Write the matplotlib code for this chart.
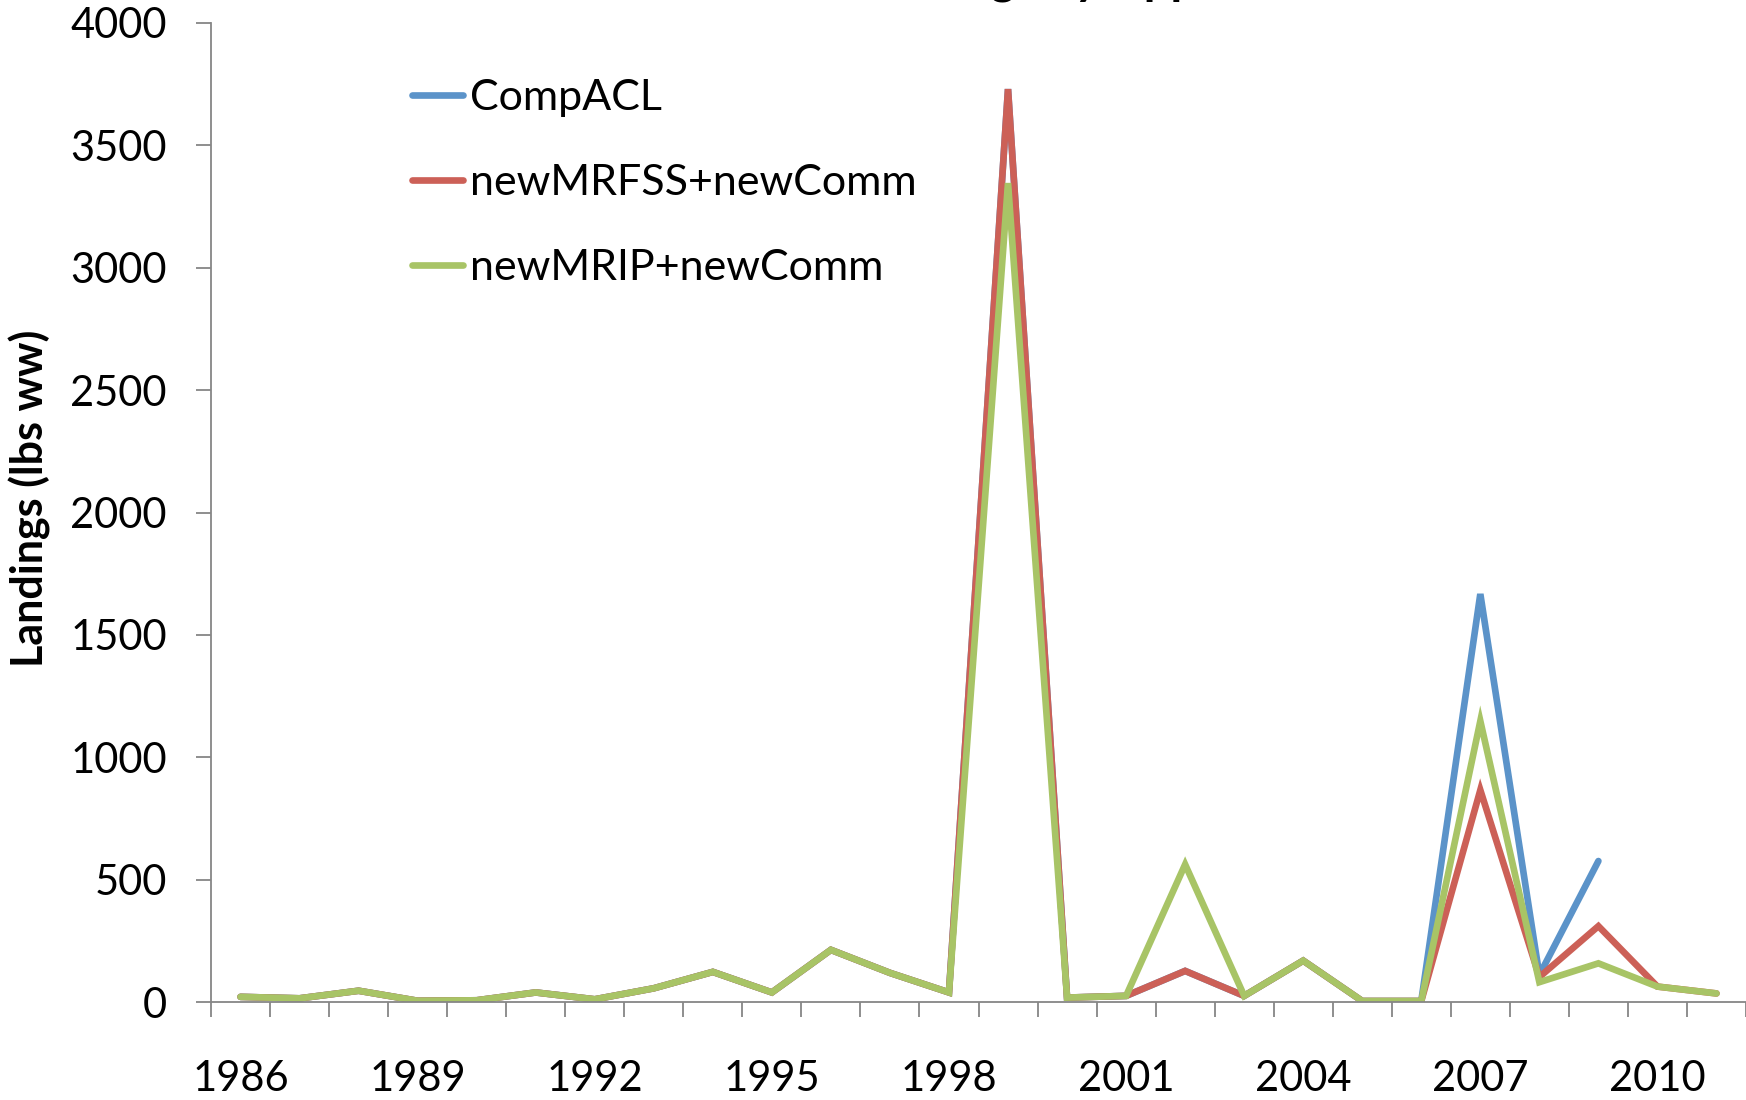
import numpy as np
import matplotlib
matplotlib.use('Agg')
import matplotlib.pyplot as plt
from matplotlib.ticker import MultipleLocator, FixedLocator

plt.rcParams['font.family'] = ['Lato', 'DejaVu Sans']

years = list(range(1986, 2012))
comp_acl = [21, 15, 46, 5, 7, 39, 11, 56, 123, 39, 213, 119, 39, 3730, 18, 25, 127, 25, 169, 4, 4,
            1667, 110, 576, np.nan, np.nan]
new_mrfss = [21, 15, 46, 5, 7, 39, 11, 56, 123, 39, 213, 119, 39, 3730, 18, 25, 127, 25, 169, 4, 4,
             866, 102, 310, 63, 35]
new_mrip = [21, 15, 46, 5, 7, 39, 11, 56, 123, 39, 213, 119, 39, 3346, 18, 25, 562, 25, 169, 4, 4,
            1148, 81, 158, 63, 35]
series_names = ['CompACL', 'newMRFSS+newComm', 'newMRIP+newComm']
colors = ['#5B93C9', '#CC6057', '#A8C466']

fig = plt.figure(figsize=(17.46, 11), dpi=100)
ax = fig.add_axes([211 / 1746, 1 - 1002 / 1100, 1 - 211 / 1746, (1002 - 23) / 1100])

x = np.arange(len(years))
for vals, name, c in zip([comp_acl, new_mrfss, new_mrip], series_names, colors):
    ax.plot(x, vals, color=c, lw=4.8, label=name, solid_capstyle='round', solid_joinstyle='miter')

ax.set_xlim(-0.5, len(years) - 0.5)
ax.set_ylim(0, 4000)
ax.yaxis.set_major_locator(MultipleLocator(500))

ax.set_xticks(x[::3])
ax.set_xticklabels([str(y) for y in years[::3]])
ax.xaxis.set_minor_locator(FixedLocator(np.arange(-0.5, len(years) + 0.5, 1)))
ax.tick_params(axis='x', which='major', length=0, pad=42, labelsize=30)
ax.tick_params(axis='x', which='minor', length=15 * 0.72, width=1.3, color='#868686', direction='out')
ax.tick_params(axis='y', length=15 * 0.72, width=1.3, color='#868686', labelsize=30, pad=21)

for s in ['top', 'right']:
    ax.spines[s].set_visible(False)
for s in ['left', 'bottom']:
    ax.spines[s].set_color('#868686')
    ax.spines[s].set_linewidth(1.3)

ax.set_ylabel('Landings (lbs ww)', fontsize=31, fontweight='bold')
ax.yaxis.set_label_coords(-0.104, 0.515)

leg = ax.legend(loc='upper left', bbox_to_anchor=(373 / 1746, 1 - 40 / 1100),
                bbox_transform=fig.transFigure, frameon=False, fontsize=31,
                handlelength=1.2, handletextpad=0.15, labelspacing=1.1)

fig.text(0.62, 1.006, 'Landings by Approach', fontsize=34, fontweight='bold',
         ha='center', va='baseline')

fig.savefig('out.png', dpi=100)
